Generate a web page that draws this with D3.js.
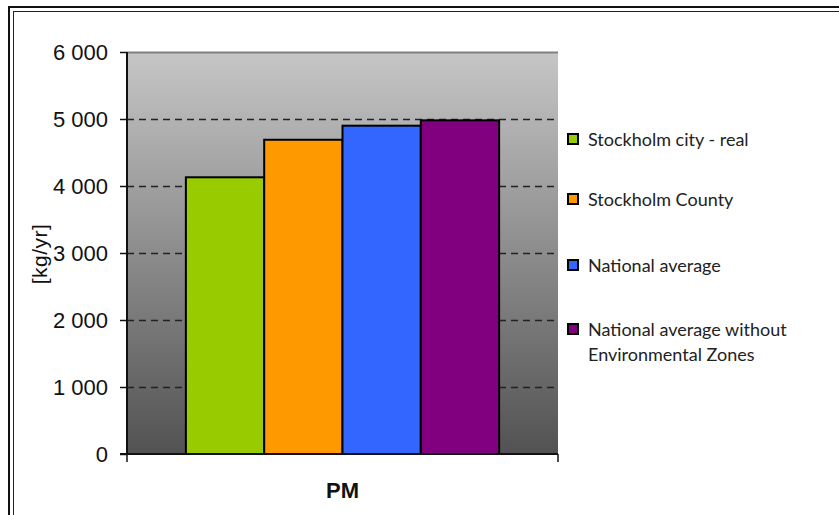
<!DOCTYPE html>
<html>
<head>
<meta charset="utf-8">
<script src="https://cdn.jsdelivr.net/npm/d3@7/dist/d3.min.js"></script>
<style>
  html, body { margin: 0; padding: 0; background: #fff; }
  svg { display: block; }
</style>
</head>
<body>
<div id="chart"></div>
<script>
// PM emissions, kg per year
const categories = ["PM"];
const seriesNames = [
  "Stockholm city - real",
  "Stockholm County",
  "National average",
  "National average without Environmental Zones"
];
const seriesValues = [4130, 4690, 4900, 4980];
const seriesColors = ["#99cc00", "#ff9900", "#3366ff", "#800080"];
const yTicks = [0, 1000, 2000, 3000, 4000, 5000, 6000];
const yTitle = "[kg/yr]";
// legend lines (long names wrap onto two lines)
const legendLines = [
  ["Stockholm city - real"],
  ["Stockholm County"],
  ["National average"],
  ["National average without", "Environmental Zones"]
];

const W = 839, H = 515;
const plot = { left: 127, right: 558, top: 52, bottom: 454 };

const svg = d3.select("#chart").append("svg")
  .attr("width", W).attr("height", H);

svg.append("rect").attr("width", W).attr("height", H).attr("fill", "#fff");

// double frame along top and left
const frame = svg.append("g");
frame.append("line").attr("x1", 9).attr("x2", W).attr("y1", 7).attr("y2", 7)
  .attr("stroke", "#111").attr("stroke-width", 2);
frame.append("line").attr("x1", 9).attr("x2", 9).attr("y1", 6).attr("y2", H)
  .attr("stroke", "#111").attr("stroke-width", 2);
frame.append("line").attr("x1", 13).attr("x2", W).attr("y1", 11.5).attr("y2", 11.5)
  .attr("stroke", "#222").attr("stroke-width", 1);
frame.append("line").attr("x1", 13.5).attr("x2", 13.5).attr("y1", 11).attr("y2", H)
  .attr("stroke", "#222").attr("stroke-width", 1);

const y = d3.scaleLinear().domain([0, 6000]).range([plot.bottom, plot.top]);
const x0 = d3.scaleBand().domain(categories).range([plot.left, plot.right]).paddingInner(0).paddingOuter(0.188);
const x1 = d3.scaleBand().domain(seriesNames).range([0, x0.bandwidth()]);

// gradient plot background
const defs = svg.append("defs");
const grad = defs.append("linearGradient").attr("id", "bg")
  .attr("x1", 0).attr("x2", 0).attr("y1", 0).attr("y2", 1);
grad.append("stop").attr("offset", "0%").attr("stop-color", "#c6c6c6");
grad.append("stop").attr("offset", "100%").attr("stop-color", "#525252");

svg.append("rect")
  .attr("x", plot.left).attr("y", plot.top)
  .attr("width", plot.right - plot.left).attr("height", plot.bottom - plot.top)
  .attr("fill", "url(#bg)");
svg.append("line")
  .attr("x1", plot.left).attr("x2", plot.right)
  .attr("y1", plot.top + 0.5).attr("y2", plot.top + 0.5)
  .attr("stroke", "#808080").attr("stroke-width", 2);

// dashed gridlines
svg.append("g")
  .selectAll("line")
  .data(yTicks.filter(d => d > 0 && d < 6000))
  .join("line")
  .attr("x1", plot.left).attr("x2", plot.right)
  .attr("y1", d => Math.round(y(d)) + 0.5).attr("y2", d => Math.round(y(d)) + 0.5)
  .attr("stroke", "#222").attr("stroke-width", 1.3)
  .attr("stroke-dasharray", "7,5");

// bars
svg.append("g")
  .selectAll("rect")
  .data(seriesValues.map((v, i) => ({ name: seriesNames[i], value: v, color: seriesColors[i] })))
  .join("rect")
  .attr("x", d => x0("PM") + x1(d.name))
  .attr("y", d => y(d.value))
  .attr("width", x1.bandwidth())
  .attr("height", d => y(0) - y(d.value))
  .attr("fill", d => d.color)
  .attr("stroke", "#000")
  .attr("stroke-width", 2);

// y axis
const fmt = d3.formatLocale({ decimal: ".", thousands: " ", grouping: [3], currency: ["", ""] }).format(",d");
const yAxis = svg.append("g")
  .attr("transform", `translate(${plot.left},0)`)
  .call(d3.axisLeft(y).tickValues(yTicks).tickFormat(fmt).tickSize(7).tickPadding(12));
yAxis.select(".domain").attr("stroke", "#111").attr("stroke-width", 2).attr("d", `M0,${plot.top}V${plot.bottom}`);
yAxis.selectAll(".tick line").attr("stroke", "#111").attr("stroke-width", 1.5);
yAxis.selectAll(".tick text")
  .attr("font-family", "Liberation Sans, Arial, sans-serif")
  .attr("font-size", 22)
  .attr("fill", "#111");

// x axis
const xAxis = svg.append("g");
xAxis.append("line")
  .attr("x1", plot.left - 7).attr("x2", plot.right)
  .attr("y1", plot.bottom).attr("y2", plot.bottom)
  .attr("stroke", "#111").attr("stroke-width", 2);
xAxis.selectAll("line.edge")
  .data([plot.left, plot.right])
  .join("line").attr("class", "edge")
  .attr("x1", d => d).attr("x2", d => d)
  .attr("y1", plot.bottom).attr("y2", plot.bottom + 8)
  .attr("stroke", "#111").attr("stroke-width", 1.5);
xAxis.selectAll("text")
  .data(categories)
  .join("text")
  .attr("x", d => x0(d) + x0.bandwidth() / 2)
  .attr("y", 498)
  .attr("text-anchor", "middle")
  .attr("font-family", "Liberation Sans, Arial, sans-serif")
  .attr("font-weight", "bold")
  .attr("font-size", 22)
  .attr("fill", "#111")
  .text(d => d);

// y axis title
svg.append("text")
  .attr("transform", `translate(47,254) rotate(-90)`)
  .attr("text-anchor", "middle")
  .attr("font-family", "Liberation Sans, Arial, sans-serif")
  .attr("font-size", 21)
  .attr("letter-spacing", 0.5)
  .attr("fill", "#111")
  .text(yTitle);

// legend
const legendY = [139, 199, 265, 329];
const legend = svg.append("g");
legendLines.forEach((lines, i) => {
  const g = legend.append("g").attr("transform", `translate(567,${legendY[i]})`);
  g.append("rect")
    .attr("x", 1).attr("y", -5).attr("width", 10).attr("height", 10)
    .attr("fill", seriesColors[i]).attr("stroke", "#000").attr("stroke-width", 2);
  lines.forEach((t, j) => {
    g.append("text")
      .attr("x", 21).attr("y", j * 25 + 7)
      .attr("font-family", "Lato, 'Open Sans', sans-serif")
      .attr("font-size", 18)
      .attr("fill", "#222")
      .text(t);
  });
});
</script>
</body>
</html>
